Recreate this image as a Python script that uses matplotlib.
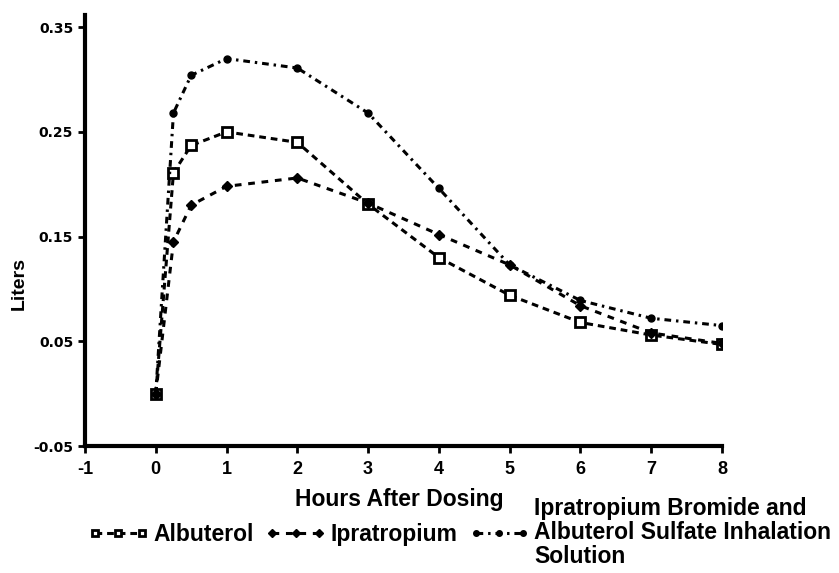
import matplotlib
matplotlib.use("Agg")
import matplotlib.pyplot as plt

# Zeitpunkte (Stunden nach Dosis)
hours = [0, 0.25, 0.5, 1, 2, 3, 4, 5, 6, 7, 8]

# FEV1-Aenderung in Litern
albuterol = [0.0, 0.211, 0.237, 0.250, 0.240, 0.181, 0.130, 0.094, 0.068, 0.056, 0.047]
ipratropium = [0.0, 0.145, 0.180, 0.198, 0.206, 0.182, 0.152, 0.123, 0.084, 0.058, 0.048]
kombi = [0.0, 0.268, 0.304, 0.320, 0.311, 0.268, 0.196, 0.123, 0.089, 0.072, 0.065]

labels = ["Albuterol", "Ipratropium",
          "Ipratropium Bromide and\nAlbuterol Sulfate Inhalation\nSolution"]
yticks = [-0.05, 0.05, 0.15, 0.25, 0.35]
xticks = list(range(-1, 9))

plt.rcParams['font.family'] = ['Liberation Sans', 'DejaVu Sans']
plt.rcParams['font.weight'] = 'bold'
plt.rcParams['axes.unicode_minus'] = False

fig = plt.figure(figsize=(8.39, 5.73), dpi=100)
ax = fig.add_axes([0.1013, 0.2216, 0.7592, 0.752])

ax.plot(hours, albuterol, color="black", lw=2.2, dashes=(2.2, 1.6),
        marker="s", ms=7, mfc="white", mec="black", mew=2, label=labels[0])
ax.plot(hours, ipratropium, color="black", lw=2.2, dashes=(2.2, 2.2),
        marker="D", ms=5, mfc="black", mec="black", label=labels[1])
ax.plot(hours, kombi, color="black", lw=2.2, dashes=(2.2, 1.6, 0.8, 1.6),
        marker="o", ms=5, mfc="black", mec="black", label=labels[2])

ax.set_xlim(-1, 8)
ax.set_ylim(-0.05, 0.3615)
ax.set_yticks(yticks)
ax.set_yticklabels(["-0.05", "0.05", "0.15", "0.25", "0.35"])
ax.set_xticks(xticks)

for s in ["top", "right"]:
    ax.spines[s].set_visible(False)
for s in ["left", "bottom"]:
    ax.spines[s].set_linewidth(3)
ax.tick_params(axis="both", width=2, length=5)
ax.tick_params(axis="x", labelsize=13, pad=6)
for t in ax.get_yticklabels():
    t.set_fontweight("bold")
    t.set_fontfamily("DejaVu Sans")
    t.set_fontsize(10)
for t in ax.get_xticklabels():
    t.set_fontweight("bold")

ax.set_ylabel("Liters", fontsize=14, fontweight="bold")
ax.yaxis.set_label_coords(-0.09, 0.378)
fig.text(0.4756, 0.1274, "Hours After Dosing", ha="center", va="center",
         fontsize=16.5, fontweight="bold")

leg = fig.legend(loc="upper left", bbox_to_anchor=(88 / 839, 1 - 497 / 573), ncol=3,
                 frameon=False, numpoints=3, handlelength=2.65,
                 handletextpad=0.2, columnspacing=0.5, borderpad=0,
                 borderaxespad=0, prop={"weight": "bold", "size": 16.5})
for h in leg.legend_handles:
    h.set_markersize(4)
leg.get_texts()[2].set_linespacing(1.05)

fig.savefig("out.png", dpi=100)
